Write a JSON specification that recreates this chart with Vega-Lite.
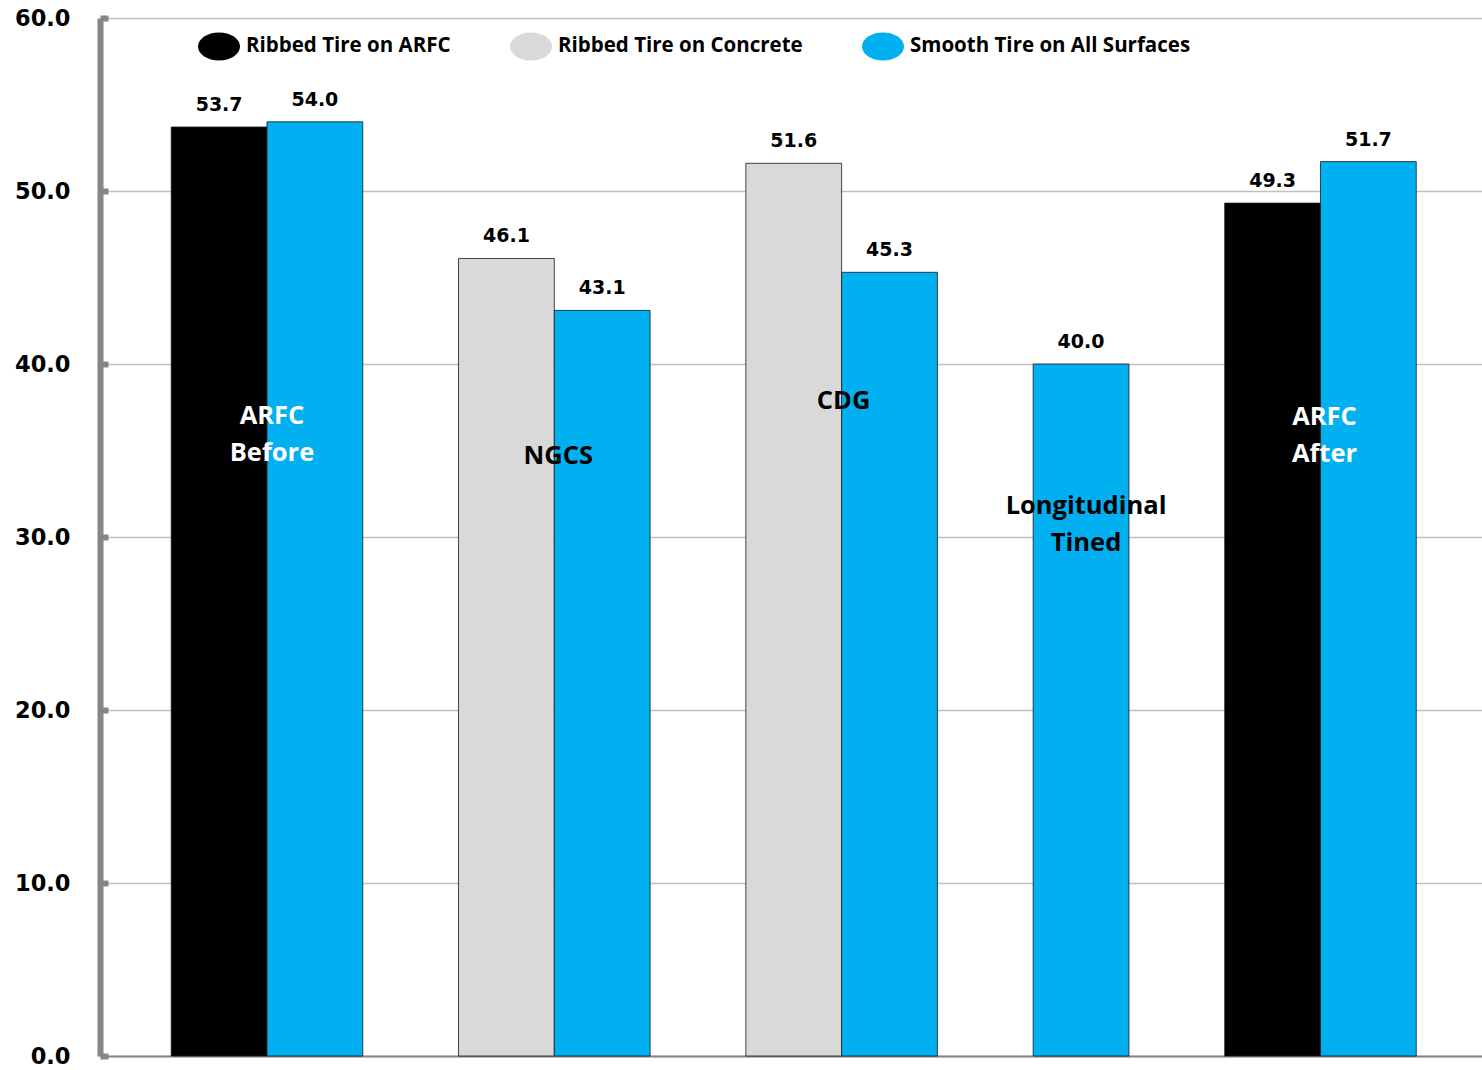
{
  "$schema": "https://vega.github.io/schema/vega-lite/v6.json",
  "width": 1382,
  "height": 1038,
  "autosize": "none",
  "padding": {"left": 100, "top": 18, "right": 0, "bottom": 14},
  "background": "white",
  "config": {
    "view": {"stroke": null},
    "axisY": {
      "domainColor": "#868686", "domainWidth": 6,
      "tickColor": "#868686", "tickWidth": 6, "tickSize": -8,
      "labelFont": "DejaVu Sans", "labelFontWeight": "bold", "labelFontSize": 22.5,
      "labelColor": "#000000", "labelPadding": 38,
      "gridColor": "#bfbfbf", "gridWidth": 1.5
    },
    "axisX": {
      "domainColor": "#868686", "domainWidth": 2,
      "ticks": false, "labels": false, "grid": false
    }
  },
  "datasets": {
    "bars": [
      {"surface": "ARFC Before", "tire": "Ribbed Tire on ARFC", "value": 53.7},
      {"surface": "ARFC Before", "tire": "Smooth Tire on All Surfaces", "value": 54.0},
      {"surface": "NGCS", "tire": "Ribbed Tire on Concrete", "value": 46.1},
      {"surface": "NGCS", "tire": "Smooth Tire on All Surfaces", "value": 43.1},
      {"surface": "CDG", "tire": "Ribbed Tire on Concrete", "value": 51.6},
      {"surface": "CDG", "tire": "Smooth Tire on All Surfaces", "value": 45.3},
      {"surface": "Longitudinal Tined", "tire": "Smooth Tire on All Surfaces", "value": 40.0},
      {"surface": "ARFC After", "tire": "Ribbed Tire on ARFC", "value": 49.3},
      {"surface": "ARFC After", "tire": "Smooth Tire on All Surfaces", "value": 51.7}
    ],
    "groups": [
      {"surface": "ARFC Before", "label": "ARFC\nBefore"},
      {"surface": "NGCS", "label": "NGCS"},
      {"surface": "CDG", "label": "CDG"},
      {"surface": "Longitudinal Tined", "label": "Longitudinal\nTined"},
      {"surface": "ARFC After", "label": "ARFC\nAfter"}
    ]
  },
  "layer": [
    {
      "data": {"name": "bars"},
      "transform": [{"calculate": "datum.surface + ' | ' + datum.tire", "as": "key"}],
      "mark": {"type": "bar", "stroke": "#1a1a1a", "strokeWidth": 1, "strokeOpacity": 0.8},
      "encoding": {
        "x": {
          "field": "key", "type": "nominal", "title": null, "sort": null,
          "scale": {
            "domain": [
              "ARFC Before | Ribbed Tire on ARFC",
              "ARFC Before | Smooth Tire on All Surfaces",
              "gap 1",
              "NGCS | Ribbed Tire on Concrete",
              "NGCS | Smooth Tire on All Surfaces",
              "gap 2",
              "CDG | Ribbed Tire on Concrete",
              "CDG | Smooth Tire on All Surfaces",
              "gap 3",
              "Longitudinal Tined | Smooth Tire on All Surfaces",
              "gap 4",
              "ARFC After | Ribbed Tire on ARFC",
              "ARFC After | Smooth Tire on All Surfaces"
            ],
            "paddingInner": 0, "paddingOuter": 0.715, "align": 0.52
          }
        },
        "y": {
          "field": "value", "type": "quantitative", "title": null,
          "scale": {"domain": [0, 60], "nice": false},
          "axis": {"values": [0, 10, 20, 30, 40, 50, 60], "format": ".1f"}
        },
        "color": {
          "field": "tire", "type": "nominal",
          "scale": {
            "domain": ["Ribbed Tire on ARFC", "Ribbed Tire on Concrete", "Smooth Tire on All Surfaces"],
            "range": ["#000000", "#d9d9d9", "#00b0f0"]
          },
          "legend": {
            "title": null, "orient": "none", "legendX": 98, "legendY": 7,
            "direction": "horizontal", "columns": 3, "columnPadding": 59,
            "symbolType": "M-1,0A1,0.667,0,1,1,1,0A1,0.667,0,1,1,-1,0Z",
            "symbolSize": 1764, "symbolStrokeWidth": 0, "symbolOpacity": 1,
            "labelFont": "Open Sans", "labelFontWeight": "bold", "labelFontSize": 20.5,
            "labelColor": "#000000", "labelOffset": 6, "labelLimit": 0, "padding": 0
          }
        }
      }
    },
    {
      "data": {"name": "bars"},
      "transform": [{"calculate": "datum.surface + ' | ' + datum.tire", "as": "key"}],
      "mark": {"type": "text", "font": "DejaVu Sans", "fontWeight": "bold", "fontSize": 19, "color": "#000000", "baseline": "alphabetic", "align": "center", "dy": -16},
      "encoding": {
        "x": {"field": "key", "type": "nominal", "title": null},
        "y": {"field": "value", "type": "quantitative", "title": null},
        "text": {"field": "value", "type": "quantitative", "format": ".1f"}
      }
    },
    {
      "data": {"name": "groups"},
      "transform": [
        {"filter": "datum.surface == 'ARFC Before'"},
        {"calculate": "datum.surface + ' | Smooth Tire on All Surfaces'", "as": "anchor"}
      ],
      "mark": {"type": "text", "font": "Open Sans", "fontWeight": "bold", "fontSize": 25.5, "lineBreak": "\n", "lineHeight": 37, "baseline": "middle", "align": "center", "dx": 5, "color": "#ffffff"},
      "encoding": {
        "x": {"field": "anchor", "type": "nominal", "bandPosition": 0, "title": null},
        "y": {"datum": 37.0, "type": "quantitative", "title": null},
        "text": {"field": "label"}
      }
    },
    {
      "data": {"name": "groups"},
      "transform": [
        {"filter": "datum.surface == 'NGCS'"},
        {"calculate": "datum.surface + ' | Smooth Tire on All Surfaces'", "as": "anchor"}
      ],
      "mark": {"type": "text", "font": "Open Sans", "fontWeight": "bold", "fontSize": 25.5, "lineBreak": "\n", "lineHeight": 36, "baseline": "middle", "align": "center", "dx": 4, "color": "#000000"},
      "encoding": {
        "x": {"field": "anchor", "type": "nominal", "bandPosition": 0, "title": null},
        "y": {"datum": 34.7, "type": "quantitative", "title": null},
        "text": {"field": "label"}
      }
    },
    {
      "data": {"name": "groups"},
      "transform": [
        {"filter": "datum.surface == 'CDG'"},
        {"calculate": "datum.surface + ' | Smooth Tire on All Surfaces'", "as": "anchor"}
      ],
      "mark": {"type": "text", "font": "Open Sans", "fontWeight": "bold", "fontSize": 25.5, "lineBreak": "\n", "lineHeight": 36, "baseline": "middle", "align": "center", "dx": 2, "color": "#000000"},
      "encoding": {
        "x": {"field": "anchor", "type": "nominal", "bandPosition": 0, "title": null},
        "y": {"datum": 37.85, "type": "quantitative", "title": null},
        "text": {"field": "label"}
      }
    },
    {
      "data": {"name": "groups"},
      "transform": [
        {"filter": "datum.surface == 'Longitudinal Tined'"},
        {"calculate": "datum.surface + ' | Smooth Tire on All Surfaces'", "as": "anchor"}
      ],
      "mark": {"type": "text", "font": "Open Sans", "fontWeight": "bold", "fontSize": 25.5, "lineBreak": "\n", "lineHeight": 37, "baseline": "middle", "align": "center", "dx": 5, "color": "#000000"},
      "encoding": {
        "x": {"field": "anchor", "type": "nominal", "bandPosition": 0.5, "title": null},
        "y": {"datum": 31.8, "type": "quantitative", "title": null},
        "text": {"field": "label"}
      }
    },
    {
      "data": {"name": "groups"},
      "transform": [
        {"filter": "datum.surface == 'ARFC After'"},
        {"calculate": "datum.surface + ' | Smooth Tire on All Surfaces'", "as": "anchor"}
      ],
      "mark": {"type": "text", "font": "Open Sans", "fontWeight": "bold", "fontSize": 25.5, "lineBreak": "\n", "lineHeight": 37, "baseline": "middle", "align": "center", "dx": 4, "color": "#ffffff"},
      "encoding": {
        "x": {"field": "anchor", "type": "nominal", "bandPosition": 0, "title": null},
        "y": {"datum": 36.95, "type": "quantitative", "title": null},
        "text": {"field": "label"}
      }
    }
  ]
}
